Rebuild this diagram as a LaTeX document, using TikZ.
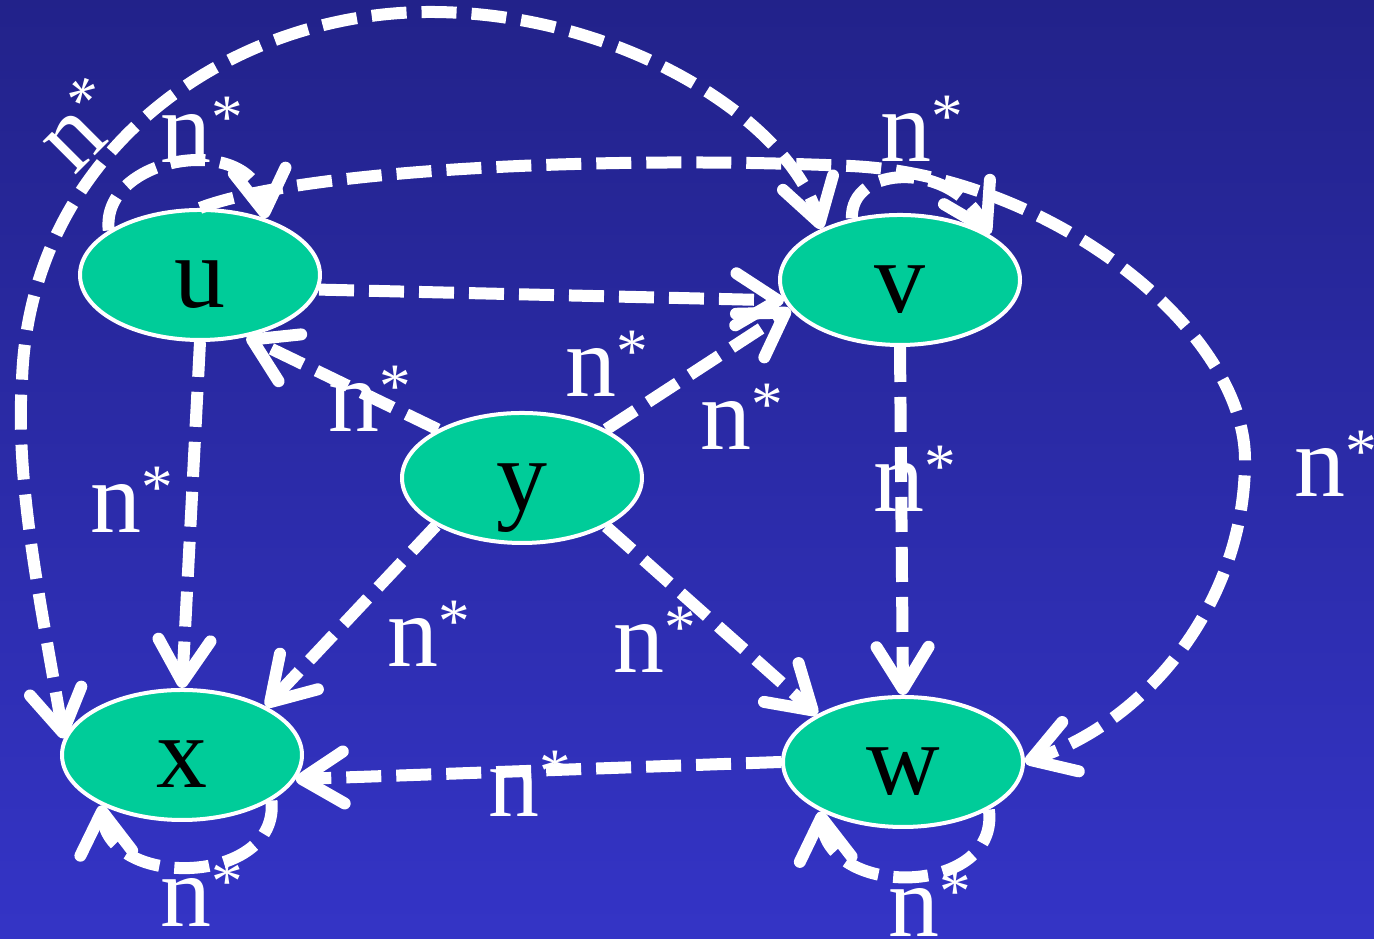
\documentclass[tikz,border=0pt]{standalone}
\usepackage{fontspec}
\setmainfont{Liberation Serif}
\usepackage{xcolor}
\definecolor{NodeGreen}{HTML}{00CC99}
\definecolor{BgTop}{HTML}{22228A}
\definecolor{BgBottom}{HTML}{3434C6}
\usepackage{tikz}
\usetikzlibrary{arrows.meta, shapes.geometric}
\newcommand{\nstar}{n\raisebox{7pt}{\fontsize{18}{18}\selectfont *}}

\begin{document}
\begin{tikzpicture}[>={Straight Barb[length=4.2mm, width=5.2mm, round]},
  cell/.style={ellipse, draw=white, line width=0.4mm, fill=NodeGreen, minimum width=2.4cm, minimum height=1.3cm, inner sep=0pt, text height=6.6mm, text depth=0pt, font=\fontsize{29}{30}\selectfont},
  reach/.style={->, white, line width=1.2mm, dash pattern=on 3.5mm off 1.5mm},
  lbl/.style={white, inner sep=0pt, anchor=base west, font=\fontsize{29}{30}\selectfont}]
  % Background
  \useasboundingbox (0,0) rectangle (13.74,9.39);
  \shade[top color=BgTop, bottom color=BgBottom] (0,0) rectangle (13.74,9.39);

  % Cells
  \node[cell] (u) at (2.00,6.64) {u};
  \node[cell] (v) at (9.00,6.59) {v};
  \node[cell] (y) at (5.22,4.61) {y};
  \node[cell] (x) at (1.82,1.84) {x};
  \node[cell] (w) at (9.03,1.77) {w};

  % Straight edges
  \draw[reach] (u.-7) -- (v.190);
  \draw[reach] (u.south) -- (x.north);
  \draw[reach] (v.south) -- (w.north);
  \draw[reach] (w.west) -- (x.-12);
  \draw[reach] (y.150) -- (u.-53);
  \draw[reach] (y.30) -- (v.195);
  \draw[reach] (y.209) -- (x.30);
  \draw[reach] (y.-30) -- (w.151);

  % Self loops
  \draw[reach] (u.154) .. controls (1.00,7.84) and (2.55,8.09) .. (u.41);
  \draw[reach] (v.128) .. controls (8.50,7.74) and (9.50,7.79) .. (v.27);
  \draw[reach] (x.-27) .. controls (2.80,0.54) and (1.10,0.49) .. (x.212);
  \draw[reach] (w.-29) .. controls (10.00,0.44) and (8.30,0.39) .. (w.211);

  % Long arcs
  \draw[reach, <->] (x.172) .. controls (0.40,3.39) and (0.15,4.59) .. (0.22,5.59)
    .. controls (0.30,7.89) and (2.30,9.27) .. (4.30,9.27)
    .. controls (6.20,9.27) and (7.90,8.19) .. (v.147);
  \draw[reach] (u.north) .. controls (3.00,7.69) and (6.00,7.84) .. (8.50,7.73)
    .. controls (10.50,7.64) and (12.45,6.09) .. (12.45,4.79)
    .. controls (12.45,3.39) and (11.50,2.19) .. (w.east);

  % Labels
  \node[lbl] (l-uu) at (1.60,7.76) {\nstar};
  \node[lbl] (l-vv) at (8.80,7.77) {\nstar};
  \node[lbl] (l-yu) at (3.28,5.07) {\nstar};
  \node[lbl] (l-uv) at (5.65,5.42) {\nstar};
  \node[lbl] (l-yv) at (7.00,4.89) {\nstar};
  \node[lbl] (l-ux) at (0.90,4.06) {\nstar};
  \node[lbl] (l-vw) at (8.73,4.27) {\nstar};
  \node[lbl] (l-yx) at (3.87,2.72) {\nstar};
  \node[lbl] (l-yw) at (6.13,2.66) {\nstar};
  \node[lbl] (l-wx) at (4.88,1.22) {\nstar};
  \node[lbl] (l-xx) at (1.60,0.12) {\nstar};
  \node[lbl] (l-ww) at (8.88,0.02) {\nstar};
  \node[lbl] (l-uw) at (12.94,4.42) {\nstar};
  \node[lbl, anchor=center, rotate=45] (l-xv) at (0.80,8.15) {\nstar};
\end{tikzpicture}
\end{document}
